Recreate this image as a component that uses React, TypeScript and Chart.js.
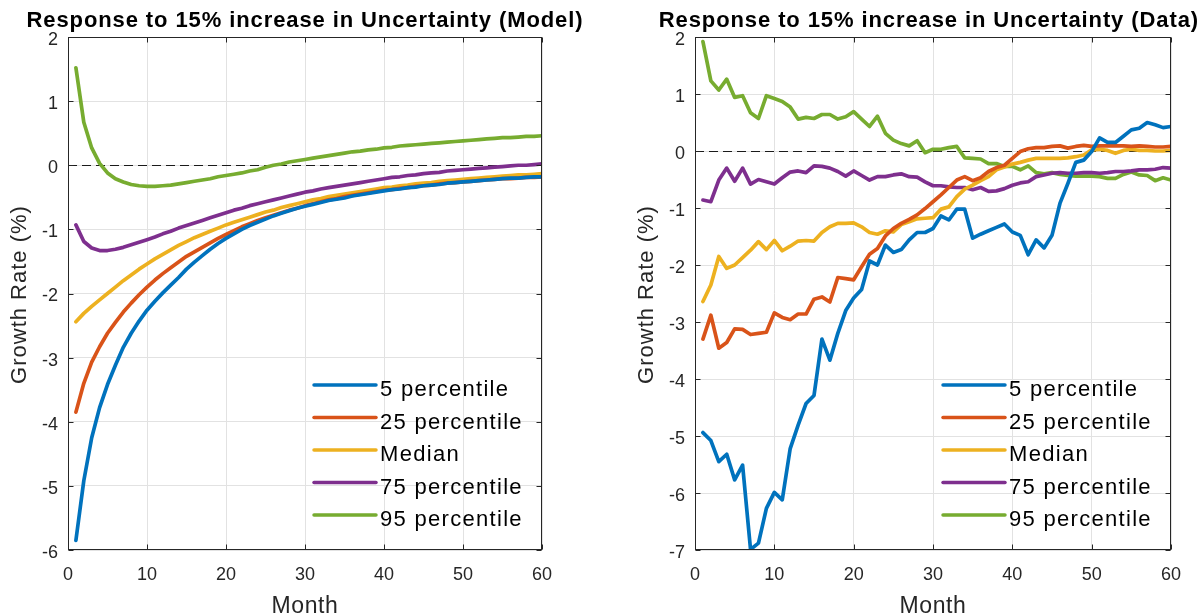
import React, { useEffect, useRef } from "react";
import { Chart, registerables } from "chart.js";

Chart.register(...registerables);

const FONT = '"Liberation Sans", Arial, Helvetica, sans-serif';

const MONTHS = [
  1, 2, 3, 4, 5, 6, 7, 8, 9, 10, 11, 12, 13, 14, 15, 16, 17, 18, 19, 20,
  21, 22, 23, 24, 25, 26, 27, 28, 29, 30, 31, 32, 33, 34, 35, 36, 37, 38, 39, 40,
  41, 42, 43, 44, 45, 46, 47, 48, 49, 50, 51, 52, 53, 54, 55, 56, 57, 58, 59, 60,
];

const SERIES_LABELS = ["5 percentile", "25 percentile", "Median", "75 percentile", "95 percentile"];
const SERIES_COLORS = ["#0072BD", "#D95319", "#EDB120", "#7E2F8E", "#77AC30"];

const X_TICKS = [0, 10, 20, 30, 40, 50, 60];
const MODEL_Y_RANGE = [-6, 2];
const DATA_Y_RANGE = [-7, 2];

// ---- Model panel ----
const MODEL_P5 = [
  -5.85, -4.92, -4.25, -3.78, -3.42, -3.12, -2.84, -2.62, -2.43, -2.26,
  -2.12, -1.99, -1.87, -1.75, -1.62, -1.51, -1.41, -1.31, -1.22, -1.14,
  -1.07, -1.0, -0.94, -0.89, -0.84, -0.79, -0.75, -0.71, -0.67, -0.64,
  -0.61, -0.58, -0.55, -0.53, -0.51, -0.48, -0.46, -0.44, -0.42, -0.4,
  -0.38, -0.37, -0.35, -0.34, -0.32, -0.31, -0.3, -0.28, -0.27, -0.26,
  -0.25, -0.24, -0.23, -0.22, -0.21, -0.2, -0.2, -0.19, -0.18, -0.18,
];
const MODEL_P25 = [
  -3.85, -3.4, -3.07, -2.83, -2.62, -2.45, -2.29, -2.15, -2.02, -1.9,
  -1.79, -1.69, -1.6, -1.51, -1.42, -1.35, -1.28, -1.21, -1.14, -1.08,
  -1.02, -0.96, -0.91, -0.86, -0.82, -0.78, -0.74, -0.7, -0.67, -0.63,
  -0.6, -0.57, -0.54, -0.52, -0.49, -0.47, -0.45, -0.43, -0.41, -0.39,
  -0.38, -0.36, -0.35, -0.33, -0.32, -0.31, -0.29, -0.28, -0.27, -0.26,
  -0.25, -0.24, -0.23, -0.22, -0.21, -0.21, -0.2, -0.19, -0.19, -0.18,
];
const MODEL_MEDIAN = [
  -2.44, -2.31, -2.2, -2.1, -2.0, -1.9, -1.8, -1.71, -1.62, -1.54,
  -1.46, -1.39, -1.32, -1.25, -1.19, -1.13, -1.08, -1.03, -0.98, -0.93,
  -0.89, -0.85, -0.81, -0.77, -0.73, -0.7, -0.66, -0.63, -0.6, -0.57,
  -0.54, -0.52, -0.49, -0.47, -0.45, -0.43, -0.41, -0.39, -0.37, -0.35,
  -0.34, -0.32, -0.31, -0.29, -0.28, -0.27, -0.25, -0.24, -0.23, -0.22,
  -0.21, -0.2, -0.19, -0.18, -0.17, -0.16, -0.15, -0.15, -0.14, -0.13,
];
const MODEL_P75 = [
  -0.93, -1.19, -1.29, -1.33, -1.33, -1.31, -1.28, -1.24, -1.2, -1.16,
  -1.12, -1.07, -1.03, -0.98, -0.94, -0.9, -0.86, -0.82, -0.78, -0.74,
  -0.7, -0.67, -0.63, -0.6, -0.57, -0.54, -0.51, -0.48, -0.45, -0.42,
  -0.4, -0.37, -0.35, -0.33, -0.31, -0.29, -0.27, -0.25, -0.23, -0.21,
  -0.19, -0.18, -0.16, -0.15, -0.13, -0.12, -0.11, -0.09, -0.08, -0.07,
  -0.06, -0.05, -0.04, -0.03, -0.02, -0.01, 0.0, 0.0, 0.01, 0.02,
];
const MODEL_P95 = [
  1.52, 0.67, 0.27, 0.03, -0.12, -0.21, -0.26, -0.3, -0.32, -0.33,
  -0.33, -0.32, -0.31, -0.29, -0.27, -0.25, -0.23, -0.21, -0.18, -0.16,
  -0.14, -0.12, -0.09, -0.07, -0.03, 0.0, 0.02, 0.05, 0.07, 0.09,
  0.11, 0.13, 0.15, 0.17, 0.19, 0.21, 0.22, 0.24, 0.25, 0.27,
  0.28, 0.3, 0.31, 0.32, 0.33, 0.34, 0.35, 0.36, 0.37, 0.38,
  0.39, 0.4, 0.41, 0.42, 0.43, 0.43, 0.44, 0.45, 0.45, 0.46,
];

// ---- Data panel ----
const DATA_P5 = [
  -4.94, -5.08, -5.45, -5.32, -5.77, -5.51, -6.99, -6.88, -6.27, -5.99,
  -6.12, -5.22, -4.81, -4.43, -4.29, -3.3, -3.67, -3.2, -2.8, -2.58,
  -2.43, -1.93, -2.0, -1.65, -1.78, -1.73, -1.56, -1.43, -1.43, -1.36,
  -1.14, -1.21, -1.02, -1.02, -1.53, -1.46, -1.4, -1.34, -1.28, -1.42,
  -1.48, -1.82, -1.56, -1.7, -1.48, -0.92, -0.57, -0.2, -0.16, -0.01,
  0.23, 0.15, 0.15, 0.26, 0.37, 0.4, 0.5, 0.46, 0.41, 0.43,
];
const DATA_P25 = [
  -3.3, -2.88, -3.46, -3.36, -3.12, -3.13, -3.22, -3.2, -3.18, -2.84,
  -2.92, -2.96, -2.86, -2.86, -2.6, -2.56, -2.65, -2.22, -2.24, -2.26,
  -2.03, -1.81, -1.71, -1.49, -1.36, -1.27, -1.2, -1.12, -1.01, -0.89,
  -0.77, -0.64, -0.51, -0.45, -0.52, -0.47, -0.36, -0.29, -0.25, -0.13,
  -0.01, 0.04, 0.06, 0.06, 0.08, 0.09, 0.05, 0.08, 0.1, 0.08,
  0.09, 0.09, 0.09, 0.09, 0.08, 0.09, 0.08, 0.07, 0.07, 0.08,
];
const DATA_MEDIAN = [
  -2.64, -2.35, -1.85, -2.06, -2.0, -1.87, -1.74, -1.59, -1.73, -1.57,
  -1.75, -1.67, -1.58, -1.57, -1.58, -1.43, -1.33, -1.27, -1.27, -1.26,
  -1.33, -1.43, -1.46, -1.4, -1.42, -1.29, -1.24, -1.19, -1.18, -1.17,
  -1.02, -0.98, -0.8, -0.67, -0.6, -0.52, -0.45, -0.33, -0.28, -0.23,
  -0.2, -0.16, -0.13, -0.13, -0.13, -0.13, -0.12, -0.1, -0.07, 0.02,
  0.03, 0.01, -0.04, 0.01, 0.03, 0.01, 0.01, 0.0, 0.0, 0.01,
];
const DATA_P75 = [
  -0.86, -0.89, -0.51, -0.3, -0.53, -0.3, -0.58, -0.5, -0.54, -0.58,
  -0.47, -0.37, -0.35, -0.38, -0.26, -0.27, -0.3, -0.36, -0.44, -0.35,
  -0.43, -0.51, -0.45, -0.45, -0.42, -0.4, -0.45, -0.46, -0.54, -0.61,
  -0.61, -0.63, -0.64, -0.64, -0.68, -0.64, -0.71, -0.7, -0.66, -0.6,
  -0.56, -0.54, -0.45, -0.42, -0.39, -0.38, -0.39, -0.39, -0.38, -0.38,
  -0.39, -0.38, -0.36, -0.36, -0.35, -0.33, -0.33, -0.32, -0.29, -0.3,
];
const DATA_P95 = [
  1.92, 1.23, 1.07, 1.26, 0.94, 0.97, 0.67, 0.57, 0.97, 0.92,
  0.87, 0.77, 0.56, 0.59, 0.57, 0.64, 0.64, 0.56, 0.6, 0.69,
  0.56, 0.43, 0.61, 0.31, 0.19, 0.13, 0.09, 0.18, -0.03, 0.03,
  0.03, 0.06, 0.08, -0.12, -0.13, -0.14, -0.22, -0.22, -0.27, -0.27,
  -0.33, -0.26, -0.38, -0.4, -0.38, -0.41, -0.43, -0.44, -0.44, -0.44,
  -0.45, -0.48, -0.48, -0.41, -0.37, -0.42, -0.43, -0.52, -0.47, -0.51,
];

const MODEL_TITLE = "Response to 15% increase in Uncertainty (Model)";
const DATA_TITLE = "Response to 15% increase in Uncertainty (Data)";
const X_TITLE = "Month";
const Y_TITLE = "Growth Rate (%)";

type PanelProps = {
  left: number;
  width: number;
  yWidth: number;
  rightPad: number;
  title: string;
  yRange: number[];
  series: number[][];
};

function setSpacing(ctx: any, v: string) {
  try {
    ctx.letterSpacing = v;
  } catch (e) {}
}

function makeDecor(title: string) {
  return {
    id: "decor",
    beforeDatasetsDraw(chart: any) {
      const { ctx, chartArea: a, scales } = chart;
      const y0 = Math.round(scales.y.getPixelForValue(0)) + 0.5;
      ctx.save();
      ctx.beginPath();
      ctx.rect(a.left, a.top, a.right - a.left, a.bottom - a.top);
      ctx.clip();
      ctx.strokeStyle = "#1a1a1a";
      ctx.lineWidth = 1.2;
      ctx.setLineDash([9, 5]);
      ctx.beginPath();
      ctx.moveTo(a.left, y0);
      ctx.lineTo(a.right, y0);
      ctx.stroke();
      ctx.restore();
    },
    afterDraw(chart: any) {
      const { ctx, chartArea: a, scales, width } = chart;
      ctx.save();
      // axes box
      const L = Math.round(a.left) + 0.5;
      const R = Math.round(a.right) - 0.5;
      const T = Math.round(a.top) + 0.5;
      const B = Math.round(a.bottom) - 0.5;
      ctx.strokeStyle = "#262626";
      ctx.lineWidth = 1;
      ctx.setLineDash([]);
      ctx.strokeRect(L, T, R - L, B - T);
      // inward ticks
      const tl = 5;
      ctx.beginPath();
      scales.x.ticks.forEach((t: any) => {
        const x = Math.round(scales.x.getPixelForValue(t.value)) + 0.5;
        ctx.moveTo(x, B);
        ctx.lineTo(x, B - tl);
        ctx.moveTo(x, T);
        ctx.lineTo(x, T + tl);
      });
      scales.y.ticks.forEach((t: any) => {
        const y = Math.round(scales.y.getPixelForValue(t.value)) + 0.5;
        ctx.moveTo(L, y);
        ctx.lineTo(L + tl, y);
        ctx.moveTo(R, y);
        ctx.lineTo(R - tl, y);
      });
      ctx.stroke();

      // title
      ctx.fillStyle = "#000";
      ctx.font = `bold 22px ${FONT}`;
      setSpacing(ctx, "0.9px");
      const tw = ctx.measureText(title).width;
      let cx = (a.left + a.right) / 2;
      if (cx + tw / 2 > width - 4) cx = width - 4 - tw / 2;
      ctx.textAlign = "center";
      ctx.textBaseline = "alphabetic";
      ctx.fillText(title, cx, 27);

      // x title
      ctx.fillStyle = "#262626";
      ctx.font = `23px ${FONT}`;
      setSpacing(ctx, "0.6px");
      ctx.fillText(X_TITLE, (a.left + a.right) / 2, 613);

      // y title
      ctx.save();
      ctx.translate(a.left - 48, (a.top + a.bottom) / 2 + 1);
      ctx.rotate(-Math.PI / 2);
      ctx.font = `22px ${FONT}`;
      setSpacing(ctx, "1px");
      ctx.textAlign = "center";
      ctx.textBaseline = "middle";
      ctx.fillText(Y_TITLE, 0, 0);
      ctx.restore();

      // legend (inside, lower right, no box)
      ctx.font = `22px ${FONT}`;
      setSpacing(ctx, "1.3px");
      ctx.textAlign = "left";
      ctx.textBaseline = "alphabetic";
      SERIES_LABELS.forEach((lab, i) => {
        const y = a.top + 348 + 32.5 * i;
        ctx.strokeStyle = SERIES_COLORS[i];
        ctx.lineWidth = 3.5;
        ctx.lineCap = "round";
        ctx.beginPath();
        ctx.moveTo(a.right - 228, y);
        ctx.lineTo(a.right - 166, y);
        ctx.stroke();
        ctx.fillStyle = "#000";
        ctx.fillText(lab, a.right - 162, y + 11);
      });
      setSpacing(ctx, "0px");
      ctx.restore();
    },
  };
}

function Panel({ left, width, yWidth, rightPad, title, yRange, series }: PanelProps) {
  const ref = useRef<HTMLCanvasElement | null>(null);
  useEffect(() => {
    const canvas = ref.current;
    if (!canvas) return;
    const chart = new Chart(canvas, {
      type: "line",
      data: {
        datasets: series.map((vals, i) => ({
          label: SERIES_LABELS[i],
          data: MONTHS.map((m, j) => ({ x: m, y: vals[j] })),
          borderColor: SERIES_COLORS[i],
          backgroundColor: SERIES_COLORS[i],
          borderWidth: 3.7,
          pointRadius: 0,
          tension: 0,
          fill: false,
          borderJoinStyle: "round",
          borderCapStyle: "round",
        })),
      },
      options: {
        responsive: false,
        animation: false,
        devicePixelRatio: 1,
        layout: { padding: { top: 37, right: rightPad, left: 0, bottom: 0 } },
        plugins: {
          legend: { display: false },
          title: { display: false },
          tooltip: { enabled: false },
        },
        scales: {
          x: {
            type: "linear",
            min: X_TICKS[0],
            max: X_TICKS[X_TICKS.length - 1],
            afterBuildTicks: (s: any) => {
              s.ticks = X_TICKS.map((v) => ({ value: v }));
            },
            ticks: {
              font: { family: FONT, size: 18 },
              color: "#262626",
              padding: 14,
              maxRotation: 0,
            },
            grid: { color: "#e2e2e2", drawTicks: false, lineWidth: 1 },
            border: { display: false },
            afterFit: (s: any) => {
              s.height = 65;
            },
          },
          y: {
            type: "linear",
            min: yRange[0],
            max: yRange[1],
            ticks: {
              stepSize: 1,
              font: { family: FONT, size: 18 },
              color: "#262626",
              padding: 10,
              labelOffset: 3,
            },
            grid: { color: "#e2e2e2", drawTicks: false, lineWidth: 1 },
            border: { display: false },
            afterFit: (s: any) => {
              s.width = yWidth;
            },
          },
        },
      } as any,
      plugins: [makeDecor(title)],
    });
    return () => chart.destroy();
  }, []);
  return (
    <canvas
      ref={ref}
      width={width}
      height={615}
      style={{ position: "absolute", left, top: 0, width, height: 615 }}
    />
  );
}

export default function App() {
  return (
    <div
      style={{
        position: "fixed",
        left: 0,
        top: 0,
        width: 1203,
        height: 615,
        background: "#fff",
        overflow: "hidden",
      }}
    >
      <Panel
        left={0}
        width={600}
        yWidth={68}
        rightPad={58}
        title={MODEL_TITLE}
        yRange={MODEL_Y_RANGE}
        series={[MODEL_P5, MODEL_P25, MODEL_MEDIAN, MODEL_P75, MODEL_P95]}
      />
      <Panel
        left={600}
        width={603}
        yWidth={95}
        rightPad={32}
        title={DATA_TITLE}
        yRange={DATA_Y_RANGE}
        series={[DATA_P5, DATA_P25, DATA_MEDIAN, DATA_P75, DATA_P95]}
      />
    </div>
  );
}
